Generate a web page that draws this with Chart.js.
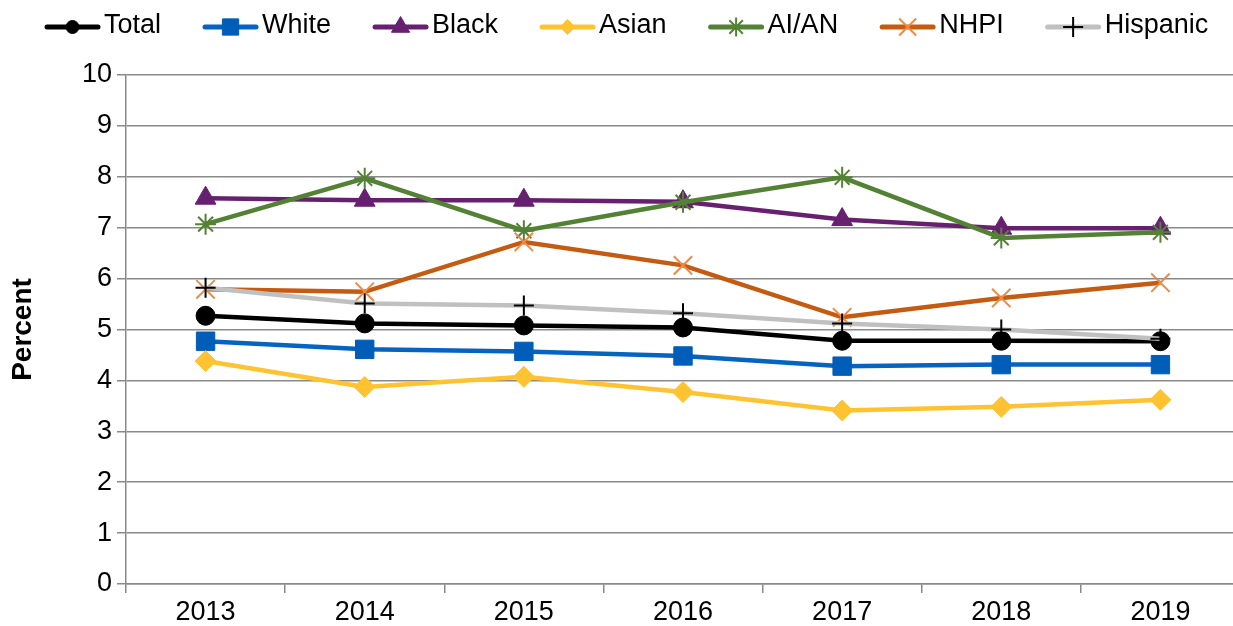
<!DOCTYPE html>
<html lang="en">
  <head>
    <meta charset="UTF-8" />
    <script src="https://cdn.jsdelivr.net/npm/chart.js"></script>
    <style>
      body { margin: 0; overflow: hidden; background: #fff; }
      canvas { display: block; }
    </style>
  </head>
  <body>
    <canvas id="rateChart" width="1255" height="626"></canvas>

    <script>
      // data
      const years = ["2013", "2014", "2015", "2016", "2017", "2018", "2019"];
      const seriesNames = ["Total", "White", "Black", "Asian", "AI/AN", "NHPI", "Hispanic"];
      const total = [5.27, 5.12, 5.08, 5.04, 4.78, 4.78, 4.77];
      const white = [4.77, 4.61, 4.57, 4.48, 4.28, 4.31, 4.31];
      const black = [7.58, 7.54, 7.54, 7.51, 7.16, 6.99, 6.99];
      const asian = [4.38, 3.87, 4.07, 3.77, 3.41, 3.48, 3.62];
      const aian = [7.07, 7.97, 6.94, 7.50, 7.99, 6.80, 6.91];
      const nhpi = [5.79, 5.74, 6.72, 6.26, 5.24, 5.62, 5.92];
      const hispanic = [5.82, 5.51, 5.47, 5.32, 5.12, 5.00, 4.82];
      const yTicks = [0, 1, 2, 3, 4, 5, 6, 7, 8, 9, 10];

      const values = [total, white, black, asian, aian, nhpi, hispanic];

      // styles per series
      const styles = [
        { line: "#000000", point: "#000000", shape: "circle", r: 9.5, bw: 1, lr: 6.5 },
        { line: "#0563C1", point: "#005EB8", shape: "rect", r: 13, bw: 1, lr: 11.5 },
        { line: "#66206F", point: "#66206F", shape: "triangle", r: 12, bw: 1, lr: 10.5 },
        { line: "#FFC332", point: "#FFC332", shape: "rectRot", r: 10.5, bw: 1, lr: 7.5 },
        { line: "#548235", point: "#548235", shape: "star", r: 10.5, bw: 2, lr: 9.5 },
        { line: "#C55A11", point: "#ED8A45", shape: "crossRot", r: 13, bw: 2, lr: 12 },
        { line: "#C0C0C0", point: "#000000", shape: "cross", r: 10, bw: 2, lr: 10 },
      ];

      Chart.defaults.font.family = "'Liberation Sans', Arial, sans-serif";
      Chart.defaults.color = "#000";

      const gridGray = "#898989";

      const datasets = seriesNames.map((name, i) => ({
        label: name,
        data: values[i],
        borderColor: styles[i].line,
        backgroundColor: styles[i].point,
        borderWidth: 4.5,
        pointStyle: styles[i].shape,
        pointRadius: styles[i].r,
        pointHoverRadius: styles[i].r,
        pointBackgroundColor: styles[i].point,
        pointBorderColor: styles[i].point,
        pointBorderWidth: styles[i].bw,
        tension: 0,
        fill: false,
        order: seriesNames.length - 1 - i, // later series on top
      }));

      // legend with line + marker like the original
      const lineLegend = {
        id: "lineLegend",
        afterDraw(chart) {
          const ctx = chart.ctx;
          const y = 26;
          const lineLen = 55;
          const gap = 42;
          let x = 45;
          ctx.save();
          ctx.font = "27px 'Liberation Sans', Arial, sans-serif";
          ctx.textBaseline = "middle";
          ctx.textAlign = "left";
          seriesNames.forEach((name, i) => {
            const s = styles[i];
            ctx.strokeStyle = s.line;
            ctx.lineWidth = 5;
            ctx.lineCap = "round";
            ctx.beginPath();
            ctx.moveTo(x + 2, y + 1);
            ctx.lineTo(x + lineLen - 2, y + 1);
            ctx.stroke();
            ctx.lineCap = "butt";
            ctx.fillStyle = s.point;
            ctx.strokeStyle = s.point;
            ctx.lineWidth = s.bw;
            Chart.helpers.drawPoint(ctx, {
              pointStyle: s.shape,
              radius: s.lr,
              rotation: 0,
              borderWidth: s.bw,
            }, x + lineLen / 2, y + 1);
            ctx.fillStyle = "#000";
            ctx.fillText(name, x + lineLen + 4, y);
            x += lineLen + 4 + ctx.measureText(name).width + gap;
          });
          ctx.restore();
        },
      };

      const ctx = document.getElementById("rateChart").getContext("2d");
      new Chart(ctx, {
        type: "line",
        data: { labels: years, datasets: datasets },
        plugins: [lineLegend],
        options: {
          responsive: false,
          animation: false,
          devicePixelRatio: 1,
          layout: { padding: { top: 75, right: 0, bottom: 0, left: 0 } },
          plugins: {
            legend: { display: false },
            tooltip: { enabled: false },
          },
          scales: {
            x: {
              offset: true,
              grid: {
                offset: true,
                drawOnChartArea: false,
                tickLength: 9,
                tickColor: gridGray,
                lineWidth: 1.5,
              },
              border: { color: gridGray, width: 1.5 },
              ticks: { font: { size: 27 }, padding: 3, maxRotation: 0 },
              afterFit(scale) { scale.height = 42; },
            },
            y: {
              min: 0,
              max: 10,
              afterBuildTicks(scale) {
                scale.ticks = yTicks.map((v) => ({ value: v }));
              },
              grid: {
                color: gridGray,
                lineWidth: 1.5,
                tickLength: 9,
                tickColor: gridGray,
              },
              border: { color: gridGray, width: 1.5 },
              ticks: { font: { size: 27 }, padding: 5 },
              title: {
                display: true,
                text: "Percent",
                font: { size: 28, weight: "bold" },
                padding: { top: 6, bottom: 0 },
              },
              afterFit(scale) { scale.width = 126; },
            },
          },
        },
      });
    </script>
  </body>
</html>
